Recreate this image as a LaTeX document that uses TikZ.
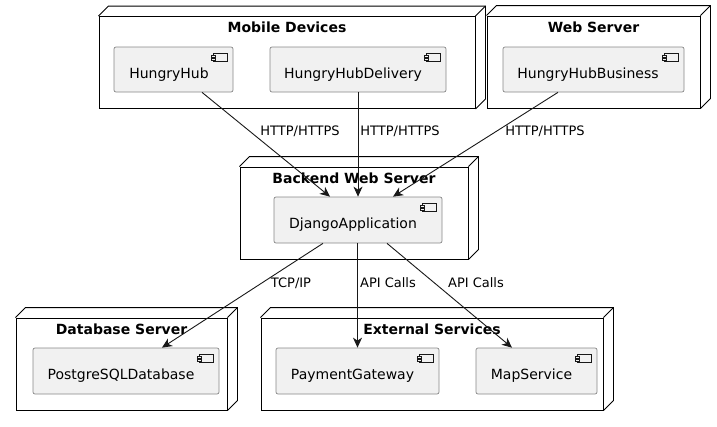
\documentclass[tikz,border=0pt]{standalone}
\usepackage{fontspec}
\setmainfont{DejaVu Sans}
\usetikzlibrary{arrows.meta,calc}
\definecolor{compfill}{HTML}{F1F1F1}
\definecolor{ink}{HTML}{181818}
\definecolor{compline}{HTML}{888888}
\begin{document}
\begin{tikzpicture}[x=1pt,y=1pt,
  dnode/.style={draw=black,line width=0.9pt,fill=white,minimum width=#1,minimum height=92,inner sep=0pt},
  comp/.style={draw=compline,line width=0.7pt,fill=compfill,rounded corners=2pt,minimum width=#1,minimum height=45,inner sep=0pt},
  title/.style={font=\fontsize{14}{16}\selectfont\bfseries,inner sep=0pt},
  ctext/.style={font=\fontsize{14}{16}\selectfont,inner sep=0pt},
  elabel/.style={font=\fontsize{13}{15}\selectfont,inner sep=0pt,fill=none},
  conn/.style={draw=ink,line width=0.9pt,-{Stealth[length=10pt,width=9pt,inset=3pt]}}
]
\useasboundingbox (0,0) rectangle (717,-426);

% deployment nodes (front faces)
\node[dnode=376] (mob) at (287,-62.5) {};
\node[dnode=213] (web) at (593.5,-62) {};
\node[dnode=228] (bws) at (354,-213) {};
\node[dnode=211] (dbs) at (121.5,-364) {};
\node[dnode=342] (ext) at (432,-364) {};
\foreach \n in {mob,web,bws,dbs,ext}{
  \draw[black,line width=0.9pt] (\n.north west) -- ++(10,10) -- ($(\n.north east)+(10,10)$) -- ($(\n.south east)+(10,10)$) -- (\n.south east);
  \draw[black,line width=0.9pt] (\n.north east) -- ++(10,10);
}
\node[title] (mobt) at (287,-27) {Mobile Devices};
\node[title] (webt) at (593.5,-27) {Web Server};
\node[title] (bwst) at (354,-178) {Backend Web Server};
\node[title] (dbst) at (121.5,-329) {Database Server};
\node[title] (extt) at (432,-329) {External Services};

% components
\node[comp=119] (hh) at (173.5,-69.5) {};
\node[comp=176] (hhd) at (358,-69.5) {};
\node[comp=181] (hhb) at (593.5,-69.5) {};
\node[comp=168,minimum height=46] (dj) at (358,-220) {};
\node[comp=186,minimum height=46] (pg) at (126,-371) {};
\node[comp=163,minimum height=46] (pay) at (357.5,-371) {};
\node[comp=121,minimum height=46] (map) at (536.5,-371) {};
\foreach \n in {hh,hhd,hhb,dj,pg,pay,map}{
  \draw[ink,line width=0.5pt] ($(\n.north east)+(-20,-7)$) rectangle ($(\n.north east)+(-6,-15)$);
  \draw[ink,line width=0.5pt,fill=compfill] ($(\n.north east)+(-22,-9)$) rectangle ($(\n.north east)+(-18,-11)$);
  \draw[ink,line width=0.5pt,fill=compfill] ($(\n.north east)+(-22,-12)$) rectangle ($(\n.north east)+(-18,-14)$);
}
\node[ctext] (hhx) at (169,-75) {HungryHub};
\node[ctext] (hhdx) at (353,-75) {HungryHubDelivery};
\node[ctext] (hhbx) at (588,-75) {HungryHubBusiness};
\node[ctext] (djx) at (353,-225) {DjangoApplication};
\node[ctext] (pgx) at (121,-376) {PostgreSQLDatabase};
\node[ctext] (payx) at (352.5,-376) {PaymentGateway};
\node[ctext] (mapx) at (531.5,-376) {MapService};

% connectors
\draw[conn] ([xshift=28.5pt]hh.south) -- ([xshift=-28pt]dj.north);
\draw[conn] (hhd.south) -- (dj.north);
\draw[conn] ([xshift=-35.5pt]hhb.south) -- ([xshift=35pt]dj.north);
\draw[conn] ([xshift=-35pt]dj.south) -- ([xshift=36pt]pg.north);
\draw[conn] ([xshift=-0.5pt]dj.south) -- (pay.north);
\draw[conn] ([xshift=29pt]dj.south) -- ([xshift=-24.5pt]map.north);

\node[elabel] (l1) at (300,-131) {HTTP/HTTPS};
\node[elabel] (l2) at (400,-131) {HTTP/HTTPS};
\node[elabel] (l3) at (545,-131) {HTTP/HTTPS};
\node[elabel] (l4) at (291,-283) {TCP/IP};
\node[elabel] (l5) at (388,-283) {API Calls};
\node[elabel] (l6) at (476,-283) {API Calls};
\end{tikzpicture}
\end{document}
